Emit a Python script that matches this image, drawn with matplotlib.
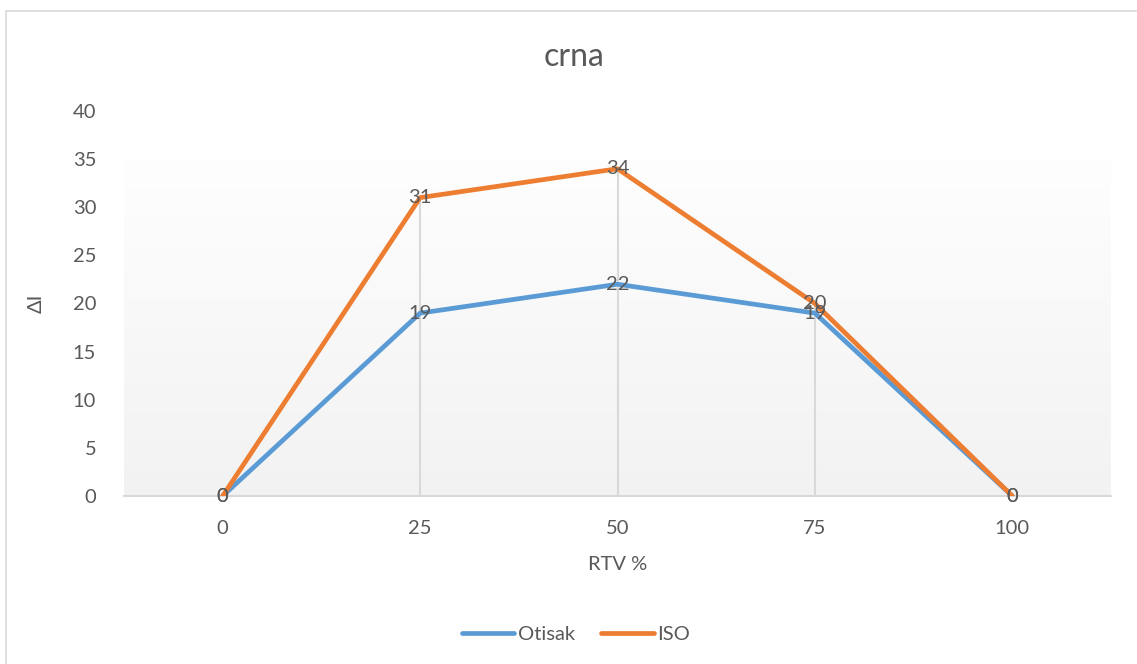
import matplotlib.pyplot as plt
import numpy as np
from matplotlib.patches import Rectangle
from matplotlib.colors import LinearSegmentedColormap

plt.rcParams["font.family"] = ["Lato", "DejaVu Sans"]

categories = ["0", "25", "50", "75", "100"]
otisak = [0, 19, 22, 19, 0]
iso = [0, 31, 34, 20, 0]

TEXT = "#595959"
GRID = "#d9d9d9"
BLUE = "#5b9bd5"
ORANGE = "#ed7d31"
FS = 14.5

fig = plt.figure(figsize=(11.37, 6.64), dpi=100)
ax = fig.add_axes([124 / 1137, 168 / 664, 987 / 1137, 385 / 664])

# outer chart frame
fig.patches.append(Rectangle((6 / 1137, -0.1), 1.2, 1.1 - 11 / 664, transform=fig.transFigure,
                             fill=False, edgecolor=GRID, linewidth=1.2))

x = np.arange(len(categories))
ax.set_xlim(-0.5, len(categories) - 0.5)
ax.set_ylim(0, 40)

# plot area gradient: near white at top, light gray at the axis
grad = np.linspace(0, 1, 256).reshape(-1, 1)
bg = LinearSegmentedColormap.from_list("bg", ["#fefefe", "#f2f2f2"])
ax.imshow(grad, cmap=bg, extent=(-0.5, len(categories) - 0.5, 0, 35),
          aspect="auto", origin="upper", zorder=0)

# drop lines from the higher series down to the axis
tops = np.maximum(otisak, iso)
ax.vlines(x, 0, tops, color=GRID, linewidth=1.5, zorder=1)

ax.plot(x, otisak, color=BLUE, linewidth=3.4, solid_capstyle="round", label="Otisak", zorder=3)
ax.plot(x, iso, color=ORANGE, linewidth=3.4, solid_capstyle="round", label="ISO", zorder=4)

for series in (otisak, iso):
    for xi, v in zip(x, series):
        ax.text(xi, v, str(v), ha="center", va="center", fontsize=FS, color=TEXT, zorder=5)

for s in ["top", "right", "left"]:
    ax.spines[s].set_visible(False)
ax.spines["bottom"].set_color(GRID)
ax.spines["bottom"].set_linewidth(1.5)

ax.set_xticks(x)
ax.set_xticklabels(categories)
ax.set_yticks(range(0, 41, 5))
ax.tick_params(axis="both", length=0, labelsize=FS, labelcolor=TEXT)
ax.tick_params(axis="x", pad=17)
ax.tick_params(axis="y", pad=20)

ax.set_xlabel("RTV %", fontsize=FS, color=TEXT, labelpad=14)
ax.set_ylabel("ΔI", fontsize=FS, color=TEXT, labelpad=20)
fig.text(574 / 1137, 1 - 57 / 664, "crna", ha="center", va="center", fontsize=23, color=TEXT)

fig.legend(loc="center", bbox_to_anchor=(576 / 1137, 1 - 634 / 664), ncol=2, frameon=False,
           fontsize=FS, labelcolor=TEXT, handlelength=2.6, handletextpad=0.2, columnspacing=1.3)

fig.savefig("out.png", dpi=100)
